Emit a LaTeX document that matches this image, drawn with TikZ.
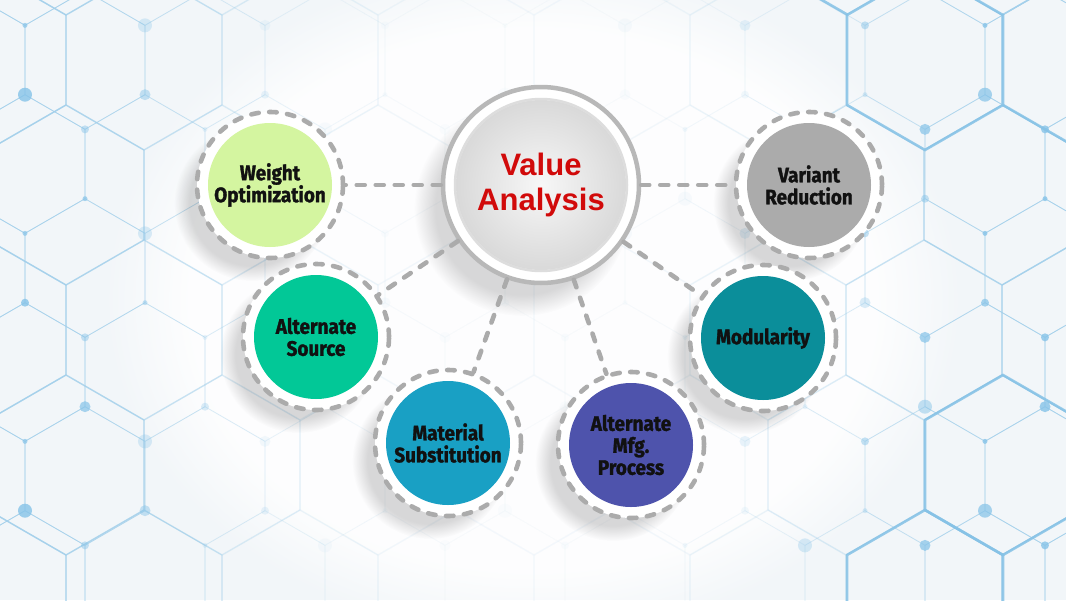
\documentclass[tikz,border=0pt]{standalone}
\usepackage{fontspec}
\newfontfamily\vafont{Liberation Sans}
\newfontfamily\satfont{Fira Sans}[FakeStretch=0.9, BoldFeatures={FakeBold=1.4}]
\usetikzlibrary{fadings}
\definecolor{bgc}{HTML}{F2F6F9}
\definecolor{hexc}{HTML}{A3D0EB}
\definecolor{hexstrong}{HTML}{86C2E6}
\definecolor{dotc}{HTML}{86C3E8}
\definecolor{ringc}{HTML}{ABABAB}
\definecolor{vaedge}{HTML}{B8B8B8}
\definecolor{vainner}{HTML}{D9D9D9}
\definecolor{vahi}{HTML}{F7F7F7}
\definecolor{vaband}{HTML}{DDDDDD}
\definecolor{limec}{HTML}{D4F5A0}
\definecolor{grayc}{HTML}{ABABAB}
\definecolor{srcc}{HTML}{02C897}
\definecolor{matc}{HTML}{19A0C4}
\definecolor{mfgc}{HTML}{4E53AC}
\definecolor{modc}{HTML}{0B8E9A}
\definecolor{redc}{HTML}{D10A0A}
\definecolor{txtc}{HTML}{111111}
\begin{document}
\begin{tikzpicture}[x=1pt,y=-1pt,
  hexline/.style={draw=hexc, line width=1.3pt},
  hexthin/.style={draw=hexc, line width=0.7pt},
  hexbold/.style={draw=hexstrong, line width=2.6pt},
  dashring/.style={circle, minimum size=146pt, inner sep=0pt, fill=white, draw=ringc, line width=4.6pt, dash pattern=on 7.5pt off 10.5pt, line cap=round},
  satdisc/.style={circle, minimum size=124pt, inner sep=0pt, align=center, text=txtc, font=\satfont\bfseries\fontsize{21}{22}\selectfont},
  connector/.style={draw=ringc, line width=4.6pt, dash pattern=on 8pt off 11pt, line cap=round},
  softshadow/.style={fill=black, opacity=0.15, path fading=circle with fuzzy edge 20 percent},
]
\useasboundingbox (0,0) rectangle (1066,600);
\clip (0,0) rectangle (1066,600);
\fill[bgc] (0,0) rectangle (1066,600);
\fill[white, opacity=0.85, path fading=circle with fuzzy edge 20 percent] (533,300) ellipse (430 and 340);

% large hexagon grid
\foreach \k in {-1,...,5}{
  \foreach \j in {-1,...,7}{
    \pgfmathsetmacro\cx{144+156*\j-78*mod(\k+8,2)}
    \pgfmathsetmacro\cy{60+135*\k}
    \pgfmathsetmacro\dd{abs((\cx-533)/480)}
    \pgfmathsetmacro\op{min(0.8,0.05+0.75*\dd*\dd*\dd)}
    \draw[hexline, opacity=\op, shift={(\cx,\cy)}]
      (30:90)--(90:90)--(150:90)--(210:90)--(270:90)--(330:90)--cycle;
  }
}
% small hexagon grid with dots
\foreach \k in {-4,...,3}{
  \foreach \j in {-2,...,8}{
    \pgfmathsetmacro\cx{145+120*\j+60*mod(\k+8,2)}
    \pgfmathsetmacro\cy{372+104*\k}
    \pgfmathsetmacro\dd{abs((\cx-533)/470)}
    \pgfmathsetmacro\op{min(0.8,0.03+0.77*\dd*\dd*\dd)}
    \pgfmathsetmacro\ra{2.5+1.5*mod(3*\j+5*\k+40,4)}
    \pgfmathsetmacro\rb{2.5+1.5*mod(7*\j+2*\k+41,4)}
    \begin{scope}[shift={(\cx,\cy)}, opacity=\op]
      \draw[hexthin] (30:69.3)--(90:69.3)--(150:69.3)--(210:69.3)--(270:69.3)--(330:69.3)--cycle;
      \fill[dotc] (270:69.3) circle (\ra);
      \fill[dotc] (210:69.3) circle (\rb);
    \end{scope}
  }
}
% emphasised hexagons
\foreach \cx/\cy in {925/60, 1003/465, 925/600}{
  \draw[hexbold, opacity=0.85, shift={(\cx,\cy)}]
    (30:90)--(90:90)--(150:90)--(210:90)--(270:90)--(330:90)--cycle;
}
\draw[hexbold, opacity=0.85] (1003,105) -- (1081,150);
\draw[hexbold, opacity=0.85] (848,15) -- (770,-30);

% soft shadows
\fill[softshadow] (522,208) circle (108);
\foreach \x/\y in {270/185, 809/185, 316/337, 448/443, 631/445, 763/338}{
  \fill[softshadow] (\x-18,\y+18) circle (78);
}

% central node
\node[circle, minimum size=196pt, inner sep=0pt, fill=white, draw=vaedge, line width=4.5pt] (va) at (541,185) {};
\shade[inner color=vahi, outer color=vainner] (va.center) circle (85);
\draw[vaband, line width=2.5pt] (va.center) circle (86);
\node[font=\vafont\bfseries\fontsize{31}{35}\selectfont, text=redc, align=center] (vat) at (va.center) {Value\\Analysis};

% satellites
\node[dashring] (wo) at (270,185) {};
\node[satdisc, fill=limec] (wot) at (wo.center) {Weight\\Optimization};
\node[dashring] (vr) at (809,185) {};
\node[satdisc, fill=grayc] (vrt) at (vr.center) {Variant\\Reduction};
\node[dashring] (as) at (316,337) {};
\node[satdisc, fill=srcc] (ast) at (as.center) {Alternate\\Source};
\node[dashring] (ms) at (448,443) {};
\node[satdisc, fill=matc] (mst) at (ms.center) {Material\\Substitution};
\node[dashring] (mp) at (631,445) {};
\node[satdisc, fill=mfgc] (mpt) at (mp.center) {Alternate\\Mfg.\\Process};
\node[dashring] (md) at (763,338) {};
\node[satdisc, fill=modc] (mdt) at (md.center) {Modularity};

% connectors
\draw[connector] (va) -- (wo);
\draw[connector] (va) -- (vr);
\draw[connector] (va) -- (as);
\draw[connector] (va) -- (ms);
\draw[connector] (va) -- (mp);
\draw[connector] (va) -- (md);
\end{tikzpicture}
\end{document}
